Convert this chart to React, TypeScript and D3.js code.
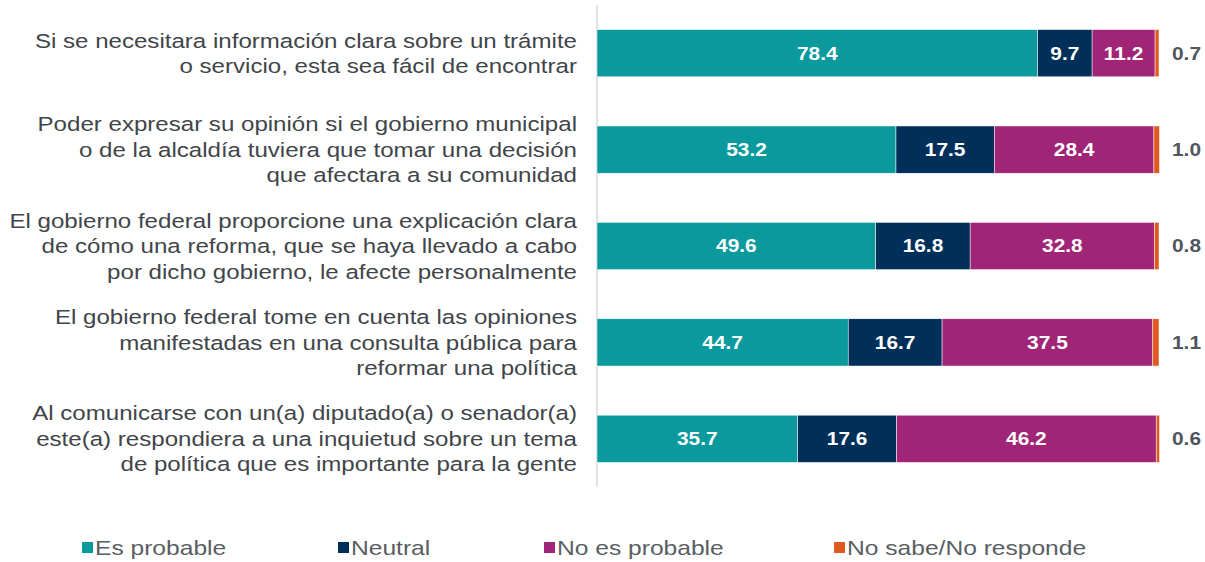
import React, { useRef, useEffect } from 'react'
import { select, scaleLinear, scaleBand, stack } from 'd3'

const categories = [
  ['Si se necesitara información clara sobre un trámite', 'o servicio, esta sea fácil de encontrar'],
  ['Poder expresar su opinión si el gobierno municipal', 'o de la alcaldía tuviera que tomar una decisión', 'que afectara a su comunidad'],
  ['El gobierno federal proporcione una explicación clara', 'de cómo una reforma, que se haya llevado a cabo', 'por dicho gobierno, le afecte personalmente'],
  ['El gobierno federal tome en cuenta las opiniones', 'manifestadas en una consulta pública para', 'reformar una política'],
  ['Al comunicarse con un(a) diputado(a) o senador(a)', 'este(a) respondiera a una inquietud sobre un tema', 'de política que es importante para la gente'],
]
const seriesNames = ['Es probable', 'Neutral', 'No es probable', 'No sabe/No responde']
const probable = [78.4, 53.2, 49.6, 44.7, 35.7]
const neutral = [9.7, 17.5, 16.8, 16.7, 17.6]
const noProbable = [11.2, 28.4, 32.8, 37.5, 46.2]
const noSabe = [0.7, 1.0, 0.8, 1.1, 0.6]
const colors = ['#0a999d', '#00305a', '#a12577', '#e05a1f']

const FONT = '"Liberation Sans", Arial, sans-serif'

export default function App() {
  const ref = useRef<SVGSVGElement>(null)
  const width = 1205, height = 562

  useEffect(() => {
    const svg = select(ref.current)
    svg.selectAll('*').remove()

    const rows = categories.map((c, i) => ({
      i,
      s0: probable[i], s1: neutral[i], s2: noProbable[i], s3: noSabe[i],
    }))
    const keys = ['s0', 's1', 's2', 's3']
    const series = stack<any>().keys(keys)(rows)

    const x = scaleLinear().domain([0, 100]).range([597, 1159])
    const y = scaleBand<number>().domain(categories.map((c, i) => i)).range([5, 487]).paddingInner(0.51).paddingOuter(0.255)

    // stretched text helper (the reference text is wide)
    const txt = (tx: number, ty: number, s: string, size: number, weight: string, fill: string, anchor: string, sx: number) =>
      svg.append('text')
        .attr('transform', `translate(${tx},${ty}) scale(${sx},1)`)
        .attr('dy', '0.35em')
        .attr('text-anchor', anchor)
        .attr('fill', fill)
        .style('font', `${weight} ${size}px ${FONT}`)
        .text(s)

    // axis line
    svg.append('line')
      .attr('x1', 597).attr('x2', 597).attr('y1', 5).attr('y2', 487)
      .attr('stroke', '#d9d9d9').attr('stroke-width', 1.5)

    series.forEach((s, k) => {
      s.forEach((d, i) => {
        svg.append('rect')
          .attr('x', x(d[0]))
          .attr('y', y(i)!)
          .attr('width', x(d[1]) - x(d[0]))
          .attr('height', y.bandwidth())
          .attr('fill', colors[k])
          .attr('stroke', '#ffffff').attr('stroke-width', 0.5)
        const v = d[1] - d[0]
        const cy = y(i)! + y.bandwidth() / 2
        if (k < 3) {
          txt((x(d[0]) + x(d[1])) / 2, cy, v.toFixed(1), 18.5, 'bold', '#ffffff', 'middle', 1.13)
        } else {
          txt(1172, cy, v.toFixed(1), 18.5, 'bold', '#4f5660', 'start', 1.13)
        }
      })
    })

    // category labels
    categories.forEach((lines, i) => {
      const cy = y(i)! + y.bandwidth() / 2
      const lh = 25.5
      lines.forEach((l, j) => {
        txt(577, cy + (j - (lines.length - 1) / 2) * lh, l, 20.5, 'normal', '#414549', 'end', 1.175)
      })
    })

    // legend
    const legX = [82, 338, 544, 834]
    seriesNames.forEach((n, k) => {
      svg.append('rect')
        .attr('x', legX[k]).attr('y', 542).attr('width', 11).attr('height', 11)
        .attr('fill', colors[k])
      txt(legX[k] + 13, 548, n, 20.5, 'normal', '#595e63', 'start', 1.2)
    })
  }, [])

  return (
    <svg ref={ref} width={width} height={height} viewBox={`0 0 ${width} ${height}`}
      style={{ position: 'absolute', left: 0, top: 0 }} />
  )
}
